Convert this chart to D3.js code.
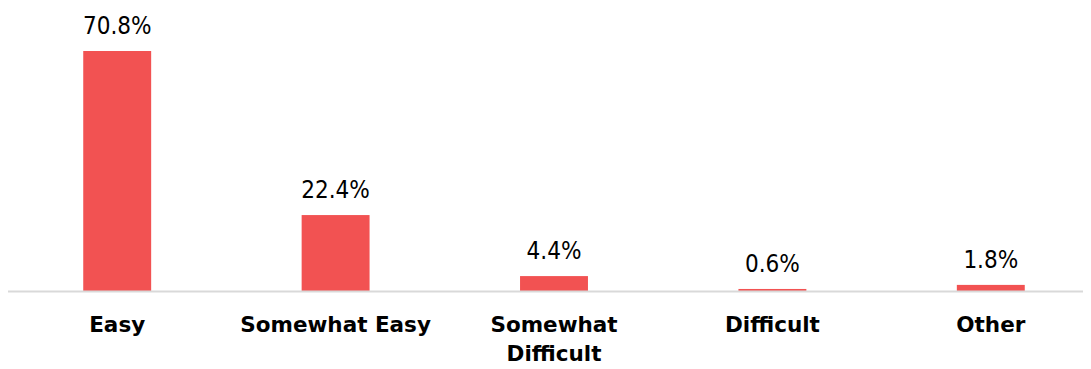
<!DOCTYPE html>
<html><head><meta charset="utf-8">
<script src="https://cdn.jsdelivr.net/npm/d3@7"></script>
<style>body{margin:0;background:#fff}svg{display:block}</style>
</head><body>
<svg id="c" width="1091" height="369"></svg>
<script>
const categories = ["Easy", "Somewhat Easy", "Somewhat Difficult", "Difficult", "Other"];
const categoryLines = [["Easy"], ["Somewhat Easy"], ["Somewhat", "Difficult"], ["Difficult"], ["Other"]];
const values = [70.8, 22.4, 4.4, 0.6, 1.8];
const valueLabels = ["70.8%", "22.4%", "4.4%", "0.6%", "1.8%"];

const svg = d3.select("#c");
const baseY = 291;
const x = d3.scaleBand().domain(categories).range([8, 1100]).paddingInner(0.689).paddingOuter(0.3445);
const y = d3.scaleLinear().domain([0, 70.8]).range([baseY, 51]);
const font = "'DejaVu Sans', Verdana, sans-serif";
const valFont = "'DejaVu Sans Condensed', 'DejaVu Sans', sans-serif";

svg.selectAll("rect.bar").data(values).join("rect")
  .attr("class", "bar")
  .attr("x", (d, i) => x(categories[i]))
  .attr("width", x.bandwidth())
  .attr("y", d => y(d))
  .attr("height", d => baseY - y(d))
  .attr("fill", "#f25252");

svg.append("line").attr("x1", 8).attr("x2", 1083).attr("y1", baseY + 0.5).attr("y2", baseY + 0.5)
  .attr("stroke", "#d9d9d9").attr("stroke-width", 2);

svg.selectAll("text.val").data(values).join("text")
  .attr("class", "val")
  .attr("x", (d, i) => x(categories[i]) + x.bandwidth() / 2)
  .attr("y", d => y(d) - 17)
  .attr("text-anchor", "middle")
  .attr("font-family", valFont).attr("font-size", 24).attr("font-weight", 300).attr("fill", "#000")
  .text((d, i) => valueLabels[i]);

const g = svg.selectAll("text.cat").data(categoryLines).join("text")
  .attr("class", "cat")
  .attr("x", (d, i) => x(categories[i]) + x.bandwidth() / 2)
  .attr("y", 332)
  .attr("text-anchor", "middle")
  .attr("font-family", font).attr("font-size", 21.5).attr("font-weight", "bold").attr("fill", "#000");
g.each(function(lines, i) {
  const t = d3.select(this);
  const cx = x(categories[i]) + x.bandwidth() / 2;
  lines.forEach((l, j) => t.append("tspan").attr("x", cx).attr("dy", j === 0 ? 0 : 29).text(l));
});
</script>
</body></html>
